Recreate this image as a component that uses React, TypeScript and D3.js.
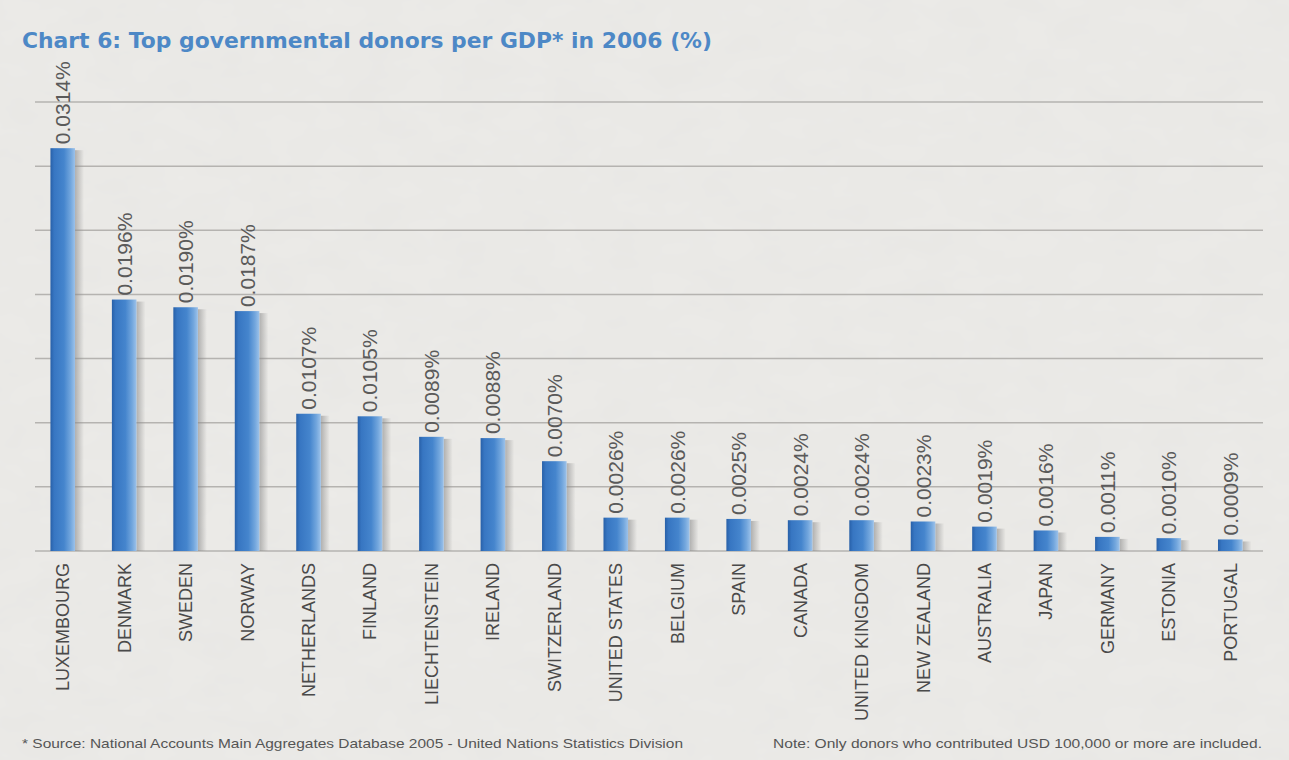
import React from "react";
import * as d3 from "d3";

const countries: string[] = [
  "LUXEMBOURG", "DENMARK", "SWEDEN", "NORWAY", "NETHERLANDS", "FINLAND",
  "LIECHTENSTEIN", "IRELAND", "SWITZERLAND", "UNITED STATES", "BELGIUM",
  "SPAIN", "CANADA", "UNITED KINGDOM", "NEW ZEALAND", "AUSTRALIA", "JAPAN",
  "GERMANY", "ESTONIA", "PORTUGAL",
];
const values: number[] = [
  0.0314, 0.0196, 0.019, 0.0187, 0.0107, 0.0105, 0.0089, 0.0088, 0.007,
  0.0026, 0.0026, 0.0025, 0.0024, 0.0024, 0.0023, 0.0019, 0.0016, 0.0011,
  0.001, 0.0009,
];
const yMax = 0.035;
const gridStep = 0.005;

const title = "Chart 6: Top governmental donors per GDP* in 2006 (%)";
const sourceNote =
  "* Source: National Accounts Main Aggregates Database 2005 - United Nations Statistics Division";
const rightNote =
  "Note: Only donors who contributed USD 100,000 or more are included.";

const W = 1289;
const H = 760;

export default function App() {
  React.useEffect(() => {
    document.body.style.margin = "0";
  }, []);

  const x = d3
    .scaleBand<string>()
    .domain(countries)
    .range([32, 1261])
    .paddingInner(0.6)
    .paddingOuter(0.3);
  const y = d3.scaleLinear().domain([0, yMax]).range([551, 102]);
  const ticks = d3.range(0, yMax + gridStep / 2, gridStep);
  const bw = x.bandwidth();
  const labelFont = "'Liberation Sans', Arial, sans-serif";

  return (
    <svg
      width={W}
      height={H}
      style={{ display: "block", position: "absolute", left: 0, top: 0 }}
    >
      <defs>
        <linearGradient id="barGrad" x1="0" x2="1" y1="0" y2="0">
          <stop offset="0%" stopColor="#2860a8" />
          <stop offset="15%" stopColor="#3776c2" />
          <stop offset="55%" stopColor="#4585cd" />
          <stop offset="82%" stopColor="#72a6dd" />
          <stop offset="100%" stopColor="#9cc2ea" />
        </linearGradient>
        <linearGradient id="shadowGrad" x1="0" x2="1" y1="0" y2="0">
          <stop offset="0%" stopColor="#8a8a8a" stopOpacity="0.6" />
          <stop offset="100%" stopColor="#8a8a8a" stopOpacity="0" />
        </linearGradient>
        <filter id="paper" x="0" y="0" width="100%" height="100%">
          <feTurbulence type="fractalNoise" baseFrequency="0.02 0.035" numOctaves="3" seed="4" />
          <feColorMatrix
            type="matrix"
            values="0 0 0 0 0.5  0 0 0 0 0.5  0 0 0 0 0.5  0 0 0 0.08 0"
          />
        </filter>
      </defs>
      <rect x={0} y={0} width={W} height={H} fill="#ecebe8" />
      <rect x={0} y={0} width={W} height={H} filter="url(#paper)" />

      <text
        x={22}
        y={48}
        fontFamily="'DejaVu Sans', Verdana, sans-serif"
        fontWeight="bold"
        fontSize={22}
        fill="#4d88c6"
        textLength={690}
        lengthAdjust="spacingAndGlyphs"
      >
        {title}
      </text>

      {ticks.map((t) => (
        <line
          key={t}
          x1={35}
          x2={1263}
          y1={y(t)}
          y2={y(t)}
          stroke="#b5b3b0"
          strokeWidth={1.5}
        />
      ))}

      {countries.map((c, i) => {
        const x0 = x(c) as number;
        const cx = x0 + bw / 2;
        const top = y(values[i]);
        const h = y(0) - top;
        return (
          <g key={c}>
            <rect x={x0 + bw} y={top + 2} width={9} height={h - 2} fill="url(#shadowGrad)" />
            <rect x={x0} y={top} width={bw} height={h} fill="url(#barGrad)" />
            <text
              transform={`translate(${cx + 7.5},${top - 4}) rotate(-90)`}
              fontFamily={labelFont}
              fontSize={21}
              fill="#5a5a5a"
              textAnchor="start"
            >
              {values[i].toFixed(4) + "%"}
            </text>
            <text
              transform={`translate(${cx + 6.5},${563}) rotate(-90)`}
              fontFamily={labelFont}
              fontSize={18}
              fill="#4a4a4a"
              textAnchor="end"
            >
              {c}
            </text>
          </g>
        );
      })}

      <text
        x={22}
        y={748}
        fontFamily={labelFont}
        fontSize={13}
        fill="#555"
        textLength={661}
        lengthAdjust="spacingAndGlyphs"
      >
        {sourceNote}
      </text>
      <text
        x={773}
        y={748}
        fontFamily={labelFont}
        fontSize={13}
        fill="#555"
        textLength={489}
        lengthAdjust="spacingAndGlyphs"
      >
        {rightNote}
      </text>
    </svg>
  );
}
